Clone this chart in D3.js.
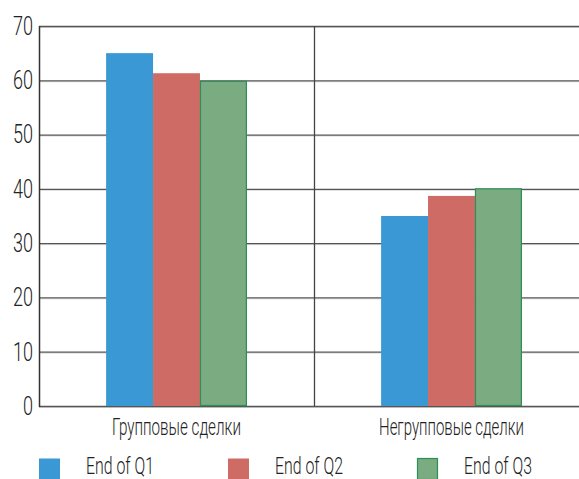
<!DOCTYPE html>
<html><head><meta charset="utf-8">
<script src="https://cdn.jsdelivr.net/npm/d3@7"></script>
<style>
body{margin:0;background:#fff;}
text{font-family:"Roboto","Liberation Sans",sans-serif;font-weight:300;fill:#222;}
</style></head>
<body><svg id="c" width="579" height="479"></svg>
<script>
const categories = ["Групповые сделки", "Негрупповые сделки"];
const seriesNames = ["End of Q1", "End of Q2", "End of Q3"];
const q1 = [65.0, 35.0];
const q2 = [61.3, 38.7];
const q3 = [59.9, 40.1];
const yTicks = [0, 10, 20, 30, 40, 50, 60, 70];

const colors = ["#3A98D5", "#CD6B64", "#7BAB80"];
const strokes = [null, null, "#2E8E58"];
const series = [q1, q2, q3];

const svg = d3.select("#c");
const mLeft = 39, mRight = 589, mTop = 26, mBottom = 406;

const x = d3.scaleBand().domain(categories).range([mLeft, mRight]).paddingInner(0).paddingOuter(0);
const xs = d3.scaleBand().domain(seriesNames).range([0, x.bandwidth()]).paddingOuter(1.43).paddingInner(0);
const y = d3.scaleLinear().domain([0, 70]).range([mBottom, mTop]);

// condensed text: natural glyphs scaled horizontally to a target width
function label(parent, str, px, py, size, width, anchor) {
  const g = parent.append("g");
  const t = g.append("text").text(str).style("font-size", size + "px")
    .attr("text-anchor", anchor);
  const nat = t.node().getComputedTextLength();
  const s = width / nat;
  g.attr("transform", `translate(${px},${py}) scale(${s},1)`);
  return g;
}

// gridlines
const grid = svg.append("g");
yTicks.forEach(t => {
  grid.append("line").attr("x1", mLeft).attr("x2", 579).attr("y1", y(t) + 1.5).attr("y2", y(t) + 1.5)
    .attr("stroke", "#ddd").attr("stroke-width", 1);
  grid.append("line").attr("x1", mLeft).attr("x2", 579).attr("y1", y(t) + 0.5).attr("y2", y(t) + 0.5)
    .attr("stroke", "#555").attr("stroke-width", 1.3);
});
// vertical divider & left axis
svg.append("line").attr("x1", x(categories[1]) + 0.5).attr("x2", x(categories[1]) + 0.5)
  .attr("y1", mTop).attr("y2", mBottom).attr("stroke", "#444").attr("stroke-width", 1.3);
svg.append("line").attr("x1", mLeft + 0.5).attr("x2", mLeft + 0.5)
  .attr("y1", mTop).attr("y2", mBottom + 1).attr("stroke", "#333").attr("stroke-width", 1.5);

// bars
series.forEach((vals, si) => {
  const s = strokes[si];
  svg.append("g").selectAll("rect").data(categories).join("rect")
    .attr("x", c => x(c) + xs(seriesNames[si]) + (s ? 0.5 : 0))
    .attr("y", (c, i) => y(vals[i]) + (s ? 0.5 : 0))
    .attr("width", xs.bandwidth() - (s ? 1 : 0))
    .attr("height", (c, i) => y(0) - y(vals[i]) - (s ? 1 : 0))
    .attr("fill", colors[si])
    .attr("stroke", s || "none")
    .attr("stroke-width", s ? 1.2 : 0);
});

// y tick labels
const ya = svg.append("g");
yTicks.forEach(t => {
  label(ya, String(t), 33, y(t) + 8.8, 25, String(t).length * 10, "end");
});

// x labels
const catWidths = [129, 145];
const xa = svg.append("g");
categories.forEach((c, i) => {
  label(xa, c, x(c) + x.bandwidth() / 2, 435, 24, catWidths[i], "middle");
});

// legend
const legX = [39, 228, 417];
const lg = svg.append("g");
seriesNames.forEach((s, i) => {
  lg.append("rect").attr("x", legX[i] + (strokes[i] ? 0.5 : 0)).attr("y", 458.5)
    .attr("width", 21 - (strokes[i] ? 1 : 0)).attr("height", 21)
    .attr("fill", colors[i]).attr("stroke", strokes[i] || "none").attr("stroke-width", 1.2);
  label(lg, s, legX[i] + 47, 473.5, 23, 68, "start");
});
</script></body></html>
